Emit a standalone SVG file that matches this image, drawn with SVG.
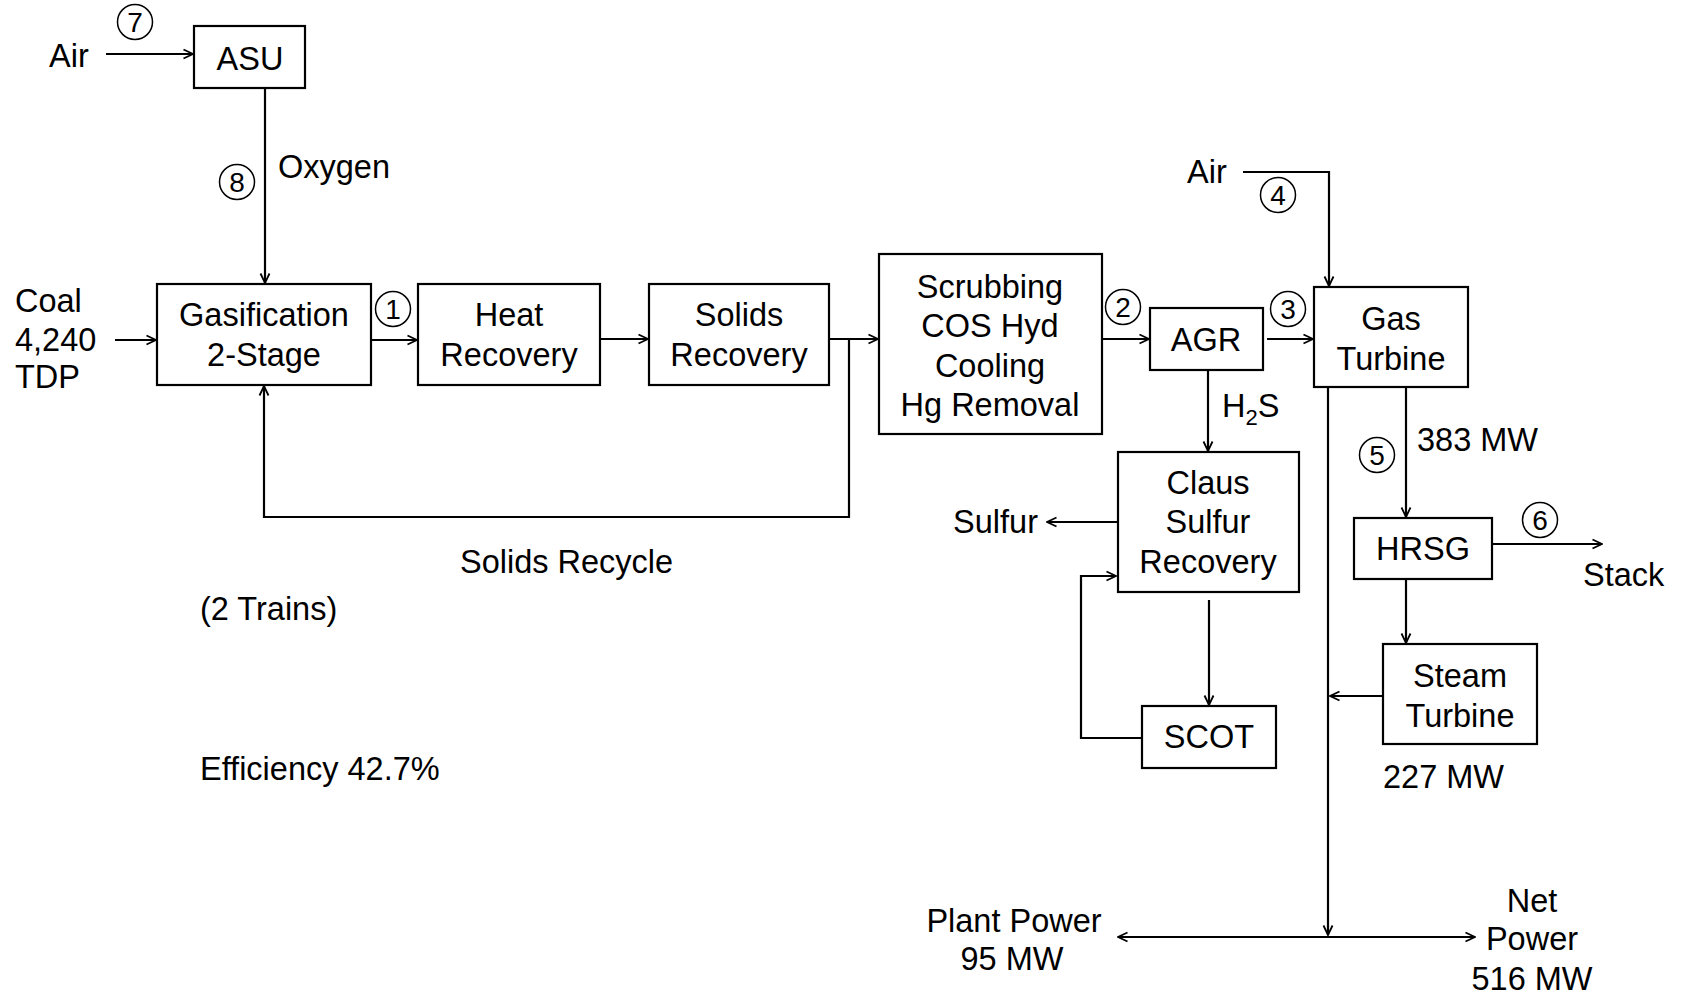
<svg xmlns="http://www.w3.org/2000/svg" width="1689" height="1000" viewBox="0 0 1689 1000">
<defs>
<style>
text{font-family:"Liberation Sans",Arial,sans-serif;font-size:32.5px;fill:#000}
.m{text-anchor:middle}
.box{fill:#fff;stroke:#000;stroke-width:2.2}
.ln{fill:none;stroke:#000;stroke-width:2.2}
.arr{marker-end:url(#ah)}
.num circle{fill:none;stroke:#000;stroke-width:1.5}
.num text{font-size:28px;text-anchor:middle}
</style>
<marker id="ah" markerUnits="userSpaceOnUse" markerWidth="12" markerHeight="12" viewBox="0 0 12 12" refX="11" refY="6" orient="auto-start-reverse">
<path d="M1.5,1.5 L11,6 L1.5,10.5" fill="none" stroke="#000" stroke-width="1.8"/>
</marker>
</defs>
<rect width="1689" height="1000" fill="#fff"/>

<g id="connectors">
<path class="ln arr" d="M106,54 H193"/>
<path class="ln arr" d="M265,88 V283"/>
<path class="ln arr" d="M115,340 H156"/>
<path class="ln arr" d="M371,340 H417"/>
<path class="ln arr" d="M600,339 H648"/>
<path class="ln arr" d="M829,339 H878"/>
<path class="ln arr" d="M849,339 V517 H264 V386"/>
<path class="ln arr" d="M1102,339 H1149"/>
<path class="ln arr" d="M1267,339 H1313"/>
<path class="ln arr" d="M1243,172 H1329 V286"/>
<path class="ln arr" d="M1208,370 V451"/>
<path class="ln arr" d="M1406,387 V517"/>
<path class="ln arr" d="M1492,544 H1602"/>
<path class="ln arr" d="M1406,579 V643"/>
<path class="ln arr" d="M1383,696 H1330"/>
<path class="ln arr" d="M1328,387 V935"/>
<path class="ln arr" d="M1118,937 H1475" marker-start="url(#ah)"/>
<path class="ln arr" d="M1118,522 H1047"/>
<path class="ln arr" d="M1209,600 V705"/>
<path class="ln arr" d="M1142,738 H1081 V576 H1116"/>
</g>

<g id="asu"><rect class="box" x="194" y="26" width="111" height="62"/><text class="m" x="250" y="70">ASU</text></g>
<g id="gasification"><rect class="box" x="157" y="284" width="214" height="101"/><text class="m" x="264" y="326">Gasification</text><text class="m" x="264" y="366">2-Stage</text></g>
<g id="heat-recovery"><rect class="box" x="418" y="284" width="182" height="101"/><text class="m" x="509" y="326">Heat</text><text class="m" x="509" y="366">Recovery</text></g>
<g id="solids-recovery"><rect class="box" x="649" y="284" width="180" height="101"/><text class="m" x="739" y="326">Solids</text><text class="m" x="739" y="366">Recovery</text></g>
<g id="scrubbing"><rect class="box" x="879" y="254" width="223" height="180"/><text class="m" x="990" y="298">Scrubbing</text><text class="m" x="990" y="337">COS Hyd</text><text class="m" x="990" y="377">Cooling</text><text class="m" x="990" y="416">Hg Removal</text></g>
<g id="agr"><rect class="box" x="1150" y="308" width="113" height="62"/><text class="m" x="1206" y="351">AGR</text></g>
<g id="gas-turbine"><rect class="box" x="1314" y="287" width="154" height="100"/><text class="m" x="1391" y="330">Gas</text><text class="m" x="1391" y="370">Turbine</text></g>
<g id="hrsg"><rect class="box" x="1354" y="518" width="138" height="61"/><text class="m" x="1423" y="560">HRSG</text></g>
<g id="steam-turbine"><rect class="box" x="1383" y="644" width="154" height="100"/><text class="m" x="1460" y="687">Steam</text><text class="m" x="1460" y="727">Turbine</text></g>
<g id="claus"><rect class="box" x="1118" y="452" width="181" height="140"/><text class="m" x="1208" y="494">Claus</text><text class="m" x="1208" y="533">Sulfur</text><text class="m" x="1208" y="573">Recovery</text></g>
<g id="scot"><rect class="box" x="1142" y="706" width="134" height="62"/><text class="m" x="1209" y="748">SCOT</text></g>

<g id="labels">
<text x="49" y="67">Air</text>
<text x="15" y="312">Coal</text>
<text x="15" y="351">4,240</text>
<text x="15" y="388">TDP</text>
<text x="278" y="178">Oxygen</text>
<text x="1187" y="183">Air</text>
<text x="1222" y="417">H<tspan font-size="22" dy="8">2</tspan><tspan dy="-8">S</tspan></text>
<text x="1417" y="451">383 MW</text>
<text x="1583" y="586">Stack</text>
<text x="1038" y="533" text-anchor="end">Sulfur</text>
<text x="1383" y="788">227 MW</text>
<text class="m" x="1014" y="932">Plant Power</text>
<text class="m" x="1012" y="970">95 MW</text>
<text class="m" x="1532" y="912">Net</text>
<text class="m" x="1532" y="950">Power</text>
<text class="m" x="1532" y="990">516 MW</text>
<text x="460" y="573">Solids Recycle</text>
<text x="200" y="620">(2 Trains)</text>
<text x="200" y="780">Efficiency 42.7%</text>
</g>

<g id="stream-numbers" class="num">
<g><circle cx="135" cy="22" r="17.5"/><text x="135" y="32">7</text></g>
<g><circle cx="237" cy="182" r="17.5"/><text x="237" y="192">8</text></g>
<g><circle cx="393" cy="309" r="17.5"/><text x="393" y="319">1</text></g>
<g><circle cx="1123" cy="307" r="17.5"/><text x="1123" y="317">2</text></g>
<g><circle cx="1288" cy="309" r="17.5"/><text x="1288" y="319">3</text></g>
<g><circle cx="1278" cy="195" r="17.5"/><text x="1278" y="205">4</text></g>
<g><circle cx="1377" cy="455" r="17.5"/><text x="1377" y="465">5</text></g>
<g><circle cx="1540" cy="520" r="17.5"/><text x="1540" y="530">6</text></g>
</g>
</svg>
